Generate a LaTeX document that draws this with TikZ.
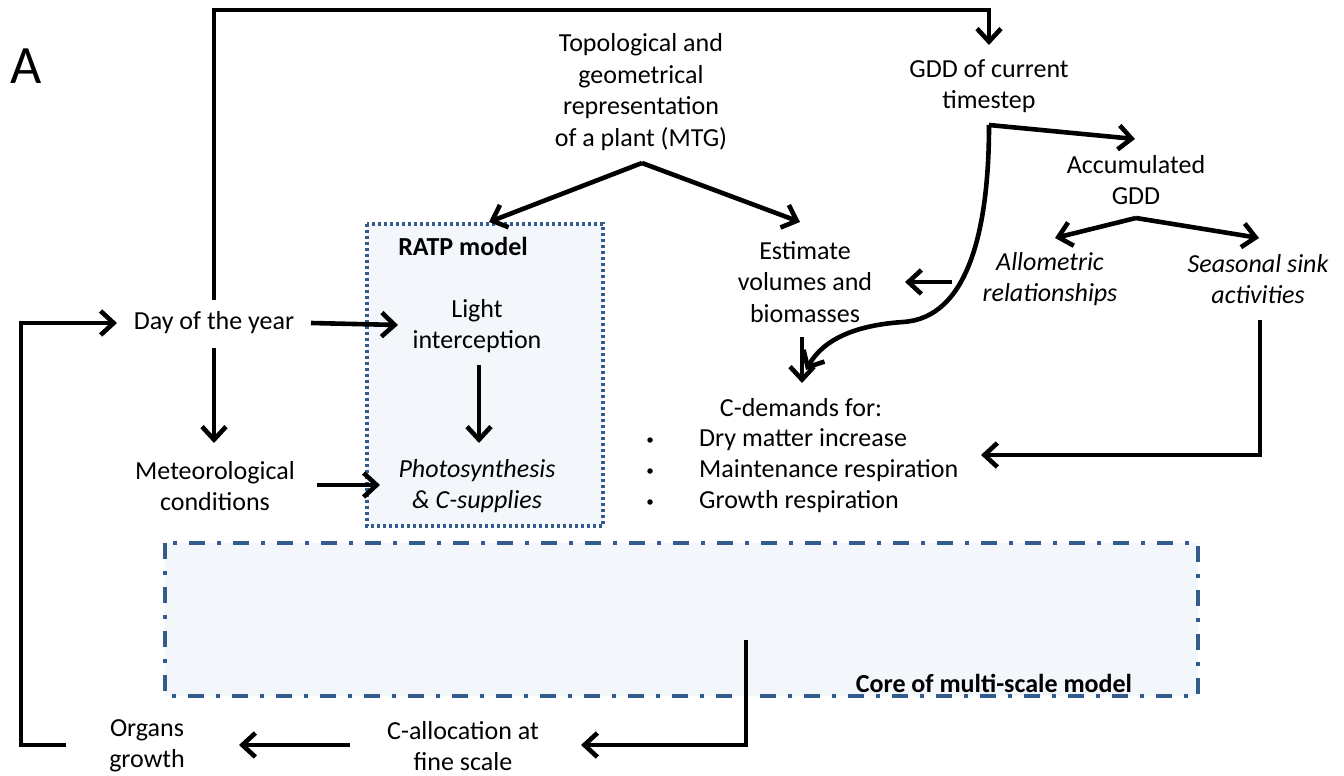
\documentclass[tikz,border=0pt]{standalone}
\usepackage{fontspec}
\setmainfont{Carlito}
\usetikzlibrary{arrows.meta}
\definecolor{boxfill}{HTML}{F3F6FA}
\definecolor{boxline}{HTML}{335B8E}
\begin{document}
\begin{tikzpicture}[x=1pt,y=-1pt,
  txt/.style={align=center,inner sep=0pt,font=\fontsize{26}{31.5}\selectfont},
  arr/.style={line width=4.6pt,-{Straight Barb[length=13pt,width=24pt]}},
  ratpbox/.style={fill=boxfill,draw=boxline,line width=3.6pt,dash pattern=on 3pt off 3pt},
  corebox/.style={fill=boxfill,draw=boxline,line width=4pt,dash pattern=on 16pt off 12pt on 4pt off 12pt}]
\useasboundingbox (0,0) rectangle (1344,776);
% boxes
\draw[ratpbox] (367,224) rectangle (603,526);
\draw[corebox] (165,543) rectangle (1198,696);
% texts
\node[txt,font=\fontsize{54}{60}\selectfont] (A) at (26,66) {A};
\node[txt] (topo) at (641,92) {Topological and\\geometrical\\representation\\of a plant (MTG)};
\node[txt] (gdd) at (989,86) {GDD of current\\timestep};
\node[txt] (acc) at (1136,180) {Accumulated\\GDD};
\node[txt,font=\fontsize{26}{31.5}\selectfont\itshape] (allo) at (1050,279) {Allometric\\relationships};
\node[txt,font=\fontsize{26}{31.5}\selectfont\itshape] (seas) at (1258,279) {Seasonal sink\\activities};
\node[txt] (est) at (805,282) {Estimate\\volumes and\\biomasses};
\node[txt] (day) at (214,323) {Day of the year};
\node[txt,font=\fontsize{26}{31.5}\selectfont\bfseries] (ratp) at (463,246) {RATP model};
\node[txt] (light) at (477,326) {Light\\interception};
\node[txt,font=\fontsize{26}{31.5}\selectfont\itshape] (photo) at (477,486) {Photosynthesis\\\&~C-supplies};
\node[txt] (meteo) at (215,486) {Meteorological\\conditions};
\node[txt] (cdem) at (801,408) {C-demands for:};
\node[circle,fill=black,inner sep=0pt,minimum size=5.5pt] (b1) at (650,440) {};
\node[circle,fill=black,inner sep=0pt,minimum size=5.5pt] (b2) at (650,471) {};
\node[circle,fill=black,inner sep=0pt,minimum size=5.5pt] (b3) at (650,502) {};
\node[txt,anchor=west] (d1) at (699,440) {Dry matter increase};
\node[txt,anchor=west] (d2) at (699,471) {Maintenance respiration};
\node[txt,anchor=west] (d3) at (699,502) {Growth respiration};
\node[txt,font=\fontsize{26}{31.5}\selectfont\bfseries] (core) at (994,683) {Core of multi-scale model};
\node[txt] (calloc) at (463,746) {C-allocation at\\fine scale};
\node[txt] (organs) at (147,746) {Organs\\growth};
% coordinates
\coordinate (daytop) at (214,300);
\coordinate (topL) at (214,10);
\coordinate (topR) at (989,10);
\coordinate (gddin) at (989,45);
\coordinate (daybot) at (214,348);
\coordinate (meteoin) at (214,443);
\coordinate (dayout) at (311,323);
\coordinate (lightin) at (398,325);
\coordinate (lightout) at (479,365);
\coordinate (photoin) at (479,443);
\coordinate (meteoout) at (317,485);
\coordinate (photoin2) at (380,485);
\coordinate (topoout) at (642,163);
\coordinate (ratpin) at (489,222);
\coordinate (estin) at (800,222);
\coordinate (estout) at (802,337);
\coordinate (cdemin) at (802,383);
\coordinate (gddout) at (989,125);
\coordinate (accin) at (1135,139);
\coordinate (curvemid) at (903,322);
\coordinate (cdemin2) at (806,370);
\coordinate (branch) at (952,282);
\coordinate (estin2) at (905,282);
\coordinate (accout) at (1136,218);
\coordinate (alloin) at (1055,238);
\coordinate (seasin) at (1259,238);
\coordinate (seasout) at (1260,320);
\coordinate (seascorner) at (1260,455);
\coordinate (cdemin3) at (981,455);
\coordinate (corestart) at (746,640);
\coordinate (corecorner) at (746,745);
\coordinate (callocin) at (581,745);
\coordinate (callocout) at (350,745);
\coordinate (organsin) at (239,745);
\coordinate (organsout) at (66,745);
\coordinate (fbcorner) at (21,745);
\coordinate (fbtop) at (21,323);
\coordinate (dayin) at (117,323);
% connectors
\draw[arr] (daytop) -- (topL) -- (topR) -- (gddin);
\draw[arr] (daybot) -- (meteoin);
\draw[arr] (dayout) -- (lightin);
\draw[arr] (lightout) -- (photoin);
\draw[arr] (meteoout) -- (photoin2);
\draw[arr] (topoout) -- (ratpin);
\draw[arr] (topoout) -- (estin);
\draw[arr] (estout) -- (cdemin);
\draw[arr] (gddout) -- (accin);
\draw[arr] (gddout) .. controls (989,230) and (968,318) .. (curvemid) .. controls (858,325) and (824,338) .. (cdemin2);
\draw[arr] (branch) -- (estin2);
\draw[arr] (accout) -- (alloin);
\draw[arr] (accout) -- (seasin);
\draw[arr] (seasout) -- (seascorner) -- (cdemin3);
\draw[arr] (corestart) -- (corecorner) -- (callocin);
\draw[arr] (callocout) -- (organsin);
\draw[arr] (organsout) -- (fbcorner) -- (fbtop) -- (dayin);
\end{tikzpicture}
\end{document}
